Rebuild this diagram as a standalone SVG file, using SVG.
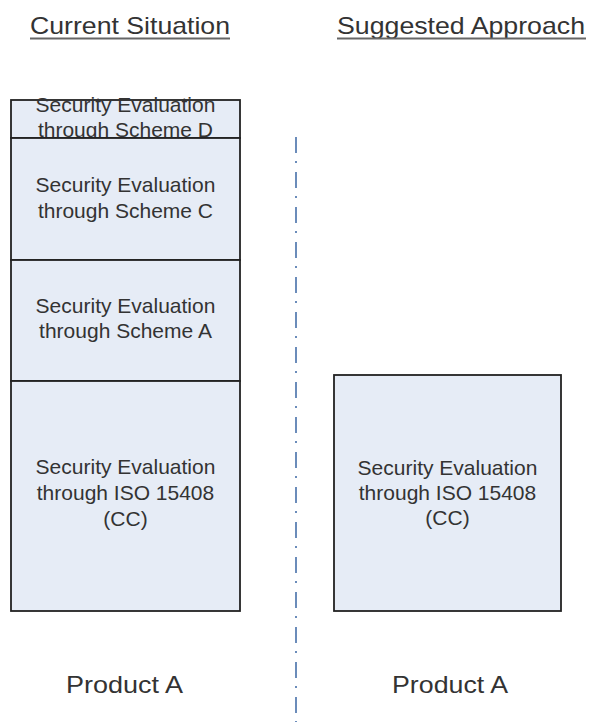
<svg xmlns="http://www.w3.org/2000/svg" width="590" height="722" viewBox="0 0 590 722">
<style>
.box{fill:#e6ecf6;stroke:#222;stroke-width:1.8}
.t{font-family:"Liberation Sans",Arial,sans-serif;font-size:21px;fill:#333;text-anchor:middle}
.h{font-family:"Liberation Sans",Arial,sans-serif;font-size:24px;fill:#333}
.p{font-family:"Liberation Sans",Arial,sans-serif;font-size:24px;fill:#333}
.ul{stroke:#666;stroke-width:2}
</style>
<rect width="590" height="722" fill="#fff"/>
<g id="titles">
<text class="h" x="30" y="34" textLength="200" lengthAdjust="spacingAndGlyphs">Current Situation</text>
<line class="ul" x1="30" y1="38.5" x2="230" y2="38.5"/>
<text class="h" x="337" y="34" textLength="248" lengthAdjust="spacingAndGlyphs">Suggested Approach</text>
<line class="ul" x1="337" y1="38.5" x2="586" y2="38.5"/>
</g>
<g id="connectors">
<line x1="296" y1="137" x2="296" y2="722" stroke="#6b8cba" stroke-width="2" stroke-dasharray="16 8 2 9"/>
</g>
<g id="schemeD">
<rect class="box" x="11" y="100" width="229" height="38"/>
<text class="t" x="125.5" y="112">Security Evaluation</text>
<text class="t" x="125.5" y="137">through Scheme D</text>
</g>
<g id="schemeC">
<rect class="box" x="11" y="138" width="229" height="122"/>
<text class="t" x="125.5" y="192">Security Evaluation</text>
<text class="t" x="125.5" y="218">through Scheme C</text>
</g>
<g id="schemeA">
<rect class="box" x="11" y="260" width="229" height="121"/>
<text class="t" x="125.5" y="313">Security Evaluation</text>
<text class="t" x="125.5" y="338">through Scheme A</text>
</g>
<g id="isoLeft">
<rect class="box" x="11" y="381" width="229" height="230"/>
<text class="t" x="125.5" y="474">Security Evaluation</text>
<text class="t" x="125.5" y="500">through ISO 15408</text>
<text class="t" x="125.5" y="526">(CC)</text>
</g>
<g id="isoRight">
<rect class="box" x="334" y="375" width="227" height="236"/>
<text class="t" x="447.5" y="475">Security Evaluation</text>
<text class="t" x="447.5" y="500">through ISO 15408</text>
<text class="t" x="447.5" y="525">(CC)</text>
</g>
<g id="productLeft">
<text class="p" x="66" y="693" textLength="117" lengthAdjust="spacingAndGlyphs">Product A</text>
</g>
<g id="productRight">
<text class="p" x="392" y="693" textLength="116" lengthAdjust="spacingAndGlyphs">Product A</text>
</g>
</svg>
